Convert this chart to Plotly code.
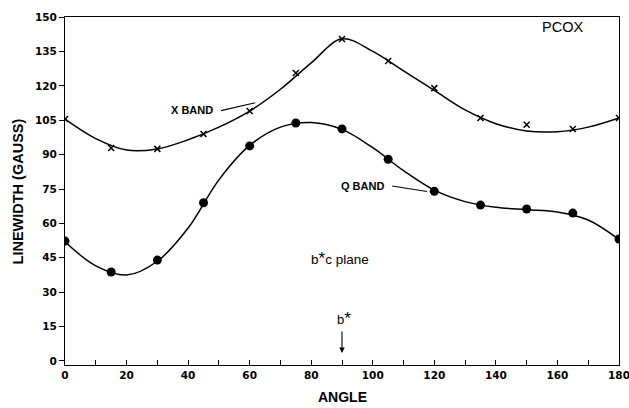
import plotly.graph_objects as go

# Measured data points
angles = [0, 15, 30, 45, 60, 75, 90, 105, 120, 135, 150, 165, 180]
x_band = [105.5, 92.9, 92.5, 99, 109, 125.6, 140.4, 130.8, 119, 106, 103, 101.2, 106]
q_band = [52.3, 38.8, 44, 69, 93.8, 103.8, 101.2, 88, 74, 68, 66.3, 64.5, 53.2]

# Smooth fitted curves
fit_angles = [0, 10, 20, 30, 40, 50, 60, 70, 80, 90, 100, 110, 120, 130, 140, 150, 160, 170, 180]
x_fit = [105.5, 97, 92, 92.5, 96.5, 102, 109, 118.5, 130, 140.5, 135, 126.5, 118, 109.5, 103.5, 100.3, 100, 102, 106]
q_fit = [52, 41.5, 37.5, 43.5, 58, 79, 94, 102, 104, 101, 93, 83, 74.5, 69.5, 67, 66, 65, 61.5, 53]

x_tickvals = list(range(0, 181, 10))
x_ticktext = ["<b>%d</b>" % v if v % 20 == 0 else "" for v in x_tickvals]
y_tickvals = list(range(0, 151, 15))
y_ticktext = ["<b>%d</b>" % v for v in y_tickvals]

FONT = "Liberation Sans"
TICKFONT = dict(family="DejaVu Sans", size=10.5, color="black")

fig = go.Figure()
fig.add_trace(go.Scatter(x=fit_angles, y=x_fit, mode="lines", line=dict(color="black", width=1.5, shape="spline", smoothing=1.0), showlegend=False, hoverinfo="skip"))
fig.add_trace(go.Scatter(x=fit_angles, y=q_fit, mode="lines", line=dict(color="black", width=1.5, shape="spline", smoothing=1.0), showlegend=False, hoverinfo="skip"))
fig.add_trace(go.Scatter(x=angles, y=x_band, mode="markers", marker=dict(symbol="x-thin", size=6, line=dict(color="black", width=1.5), color="black"), showlegend=False, name="X BAND"))
fig.add_trace(go.Scatter(x=angles, y=q_band, mode="markers", marker=dict(symbol="circle", size=9, color="black"), showlegend=False, name="Q BAND"))

fig.update_layout(
    width=629, height=408,
    margin=dict(l=65, r=10, t=17, b=43, autoexpand=False),
    paper_bgcolor="white", plot_bgcolor="white",
    font=dict(family=FONT, color="black"),
    xaxis=dict(range=[-0.01, 180.01], tickvals=x_tickvals, ticktext=x_ticktext, ticks="inside", ticklen=5,
               tickcolor="black", showline=True, linecolor="black", linewidth=1.2, mirror=True,
               showgrid=False, zeroline=False, tickfont=TICKFONT, ticklabeloverflow="allow", automargin=False),
    yaxis=dict(range=[-1.75, 150.02], tickvals=y_tickvals, ticktext=y_ticktext, ticks="outside", ticklen=5,
               tickcolor="black", showline=True, linecolor="black", linewidth=1.2, mirror=True,
               showgrid=False, zeroline=False, tickfont=TICKFONT, ticklabeloverflow="allow", automargin=False),
)

STAR = "<span style='font-size:17px'>*</span>"
anns = [
    dict(text="<b>ANGLE</b>", xref="paper", yref="paper", x=0.5, y=-0.093, xanchor="center", yanchor="middle", showarrow=False, font=dict(size=14, family=FONT)),
    dict(text="<b>LINEWIDTH (GAUSS)</b>", xref="paper", yref="paper", x=-0.084, y=0.5, xanchor="center", yanchor="middle", textangle=-90, showarrow=False, font=dict(size=14.5, family=FONT)),
    dict(text="PCOX", x=161.8, y=145.5, xanchor="center", yanchor="middle", showarrow=False, font=dict(size=14.5, family=FONT)),
    dict(text="<b>X BAND</b>", x=41.3, y=109.5, xanchor="center", yanchor="middle", showarrow=False, font=dict(size=11, family=FONT)),
    dict(text="<b>Q BAND</b>", x=96.5, y=76.3, xanchor="center", yanchor="middle", showarrow=False, font=dict(size=11, family=FONT)),
    dict(text="b" + STAR + "c plane", x=89.3, y=44.5, xanchor="center", yanchor="middle", showarrow=False, font=dict(size=13.5, family=FONT)),
    dict(text="b" + STAR, x=90.6, y=18.5, xanchor="center", yanchor="middle", showarrow=False, font=dict(size=13, family=FONT)),
    dict(text="", x=90, y=3.5, ax=0, ay=-23, showarrow=True, arrowhead=2, arrowsize=1, arrowwidth=1.1, arrowcolor="black"),
]
fig.update_layout(annotations=anns)

# leader lines
fig.add_shape(type="line", x0=50.7, y0=109.2, x1=61.8, y1=112.6, line=dict(color="black", width=1.1))
fig.add_shape(type="line", x0=106.3, y0=76.3, x1=117.6, y1=73.9, line=dict(color="black", width=1.1))

fig.write_html("out.html")
